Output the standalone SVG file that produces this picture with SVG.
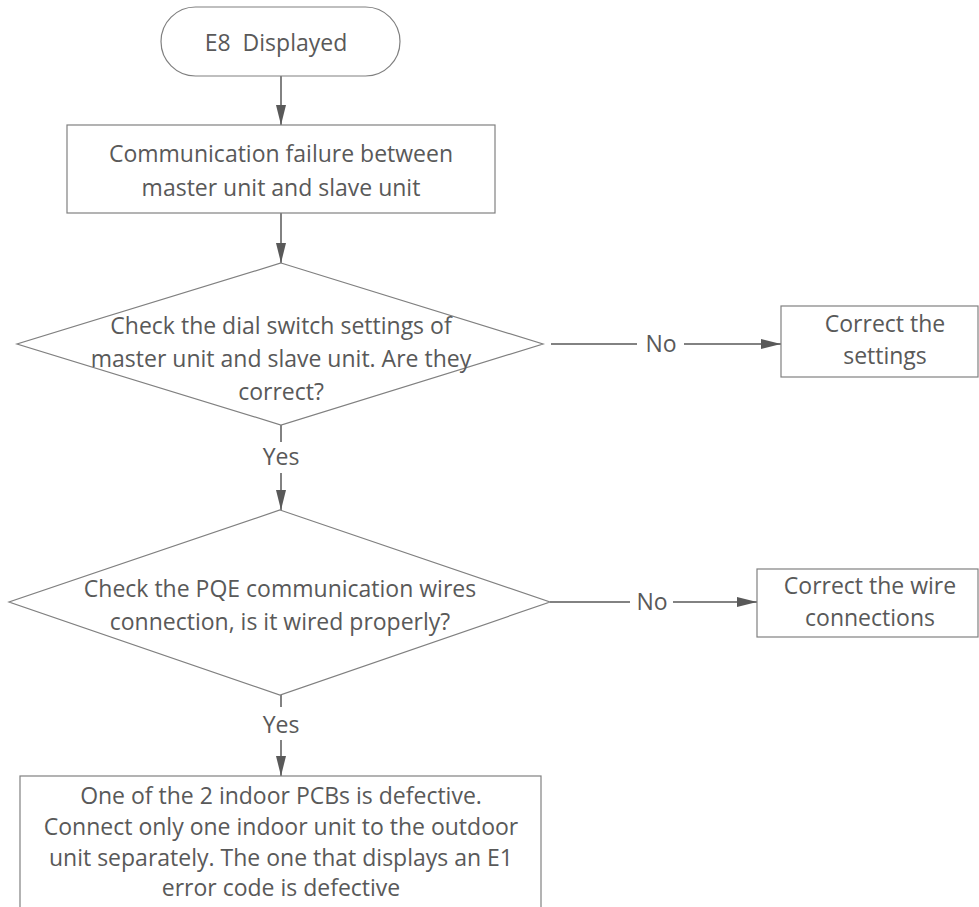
<svg xmlns="http://www.w3.org/2000/svg" width="979" height="907" viewBox="0 0 979 907">
<defs>
<marker id="arr" markerUnits="userSpaceOnUse" markerWidth="22" markerHeight="12" refX="20" refY="5" orient="auto">
<path d="M0,0 L20,5 L0,10 Z" fill="#595959"/>
</marker>
<style>
.shape{fill:#ffffff;stroke:#808080;stroke-width:1.2}
.conn{fill:none;stroke:#595959;stroke-width:1.5}
text{font-family:"Open Sans","Liberation Sans",sans-serif;font-size:23px;fill:#595959;text-anchor:middle}
</style>
</defs>
<rect width="979" height="907" fill="#ffffff"/>
<g id="connectors">
<line class="conn" x1="281" y1="76" x2="281" y2="125" marker-end="url(#arr)"/>
<line class="conn" x1="281" y1="213" x2="281" y2="263" marker-end="url(#arr)"/>
<line class="conn" x1="281" y1="425" x2="281" y2="442"/>
<line class="conn" x1="281" y1="473" x2="281" y2="510" marker-end="url(#arr)"/>
<line class="conn" x1="281" y1="695" x2="281" y2="707"/>
<line class="conn" x1="281" y1="740" x2="281" y2="776" marker-end="url(#arr)"/>
<line class="conn" x1="551" y1="344" x2="637" y2="344"/>
<line class="conn" x1="684" y1="344" x2="781" y2="344" marker-end="url(#arr)"/>
<line class="conn" x1="550" y1="602" x2="630" y2="602"/>
<line class="conn" x1="673" y1="602" x2="757" y2="602" marker-end="url(#arr)"/>
<text x="281" y="465">Yes</text>
<text x="281" y="733">Yes</text>
<text x="661" y="352">No</text>
<text x="652" y="610">No</text>
</g>
<g id="start">
<rect class="shape" x="161" y="7" width="239" height="69" rx="34.5" ry="34.5"/>
<text x="276" y="51" xml:space="preserve">E8  Displayed</text>
</g>
<g id="comm-failure">
<rect class="shape" x="67" y="125" width="428" height="88"/>
<text x="281" y="162">Communication failure between</text>
<text x="281" y="196">master unit and slave unit</text>
</g>
<g id="check-dial">
<polygon class="shape" points="281,263 543,344 281,425 17,344"/>
<text x="281" y="334">Check the dial switch settings of</text>
<text x="281" y="367">master unit and slave unit. Are they</text>
<text x="281" y="400">correct?</text>
</g>
<g id="correct-settings">
<rect class="shape" x="781" y="306" width="197" height="71"/>
<text x="885" y="332">Correct the</text>
<text x="885" y="364">settings</text>
</g>
<g id="check-pqe">
<polygon class="shape" points="280,510 550,602 280,695 9,602"/>
<text x="280" y="597">Check the PQE communication wires</text>
<text x="280" y="630">connection, is it wired properly?</text>
</g>
<g id="correct-wire">
<rect class="shape" x="757" y="569" width="221" height="68"/>
<text x="870" y="594">Correct the wire</text>
<text x="870" y="626">connections</text>
</g>
<g id="pcb-defective">
<rect class="shape" x="20" y="776" width="521" height="150"/>
<text x="281" y="804">One of the 2 indoor PCBs is defective.</text>
<text x="281" y="835">Connect only one indoor unit to the outdoor</text>
<text x="281" y="866">unit separately. The one that displays an E1</text>
<text x="281" y="896">error code is defective</text>
</g>
</svg>
